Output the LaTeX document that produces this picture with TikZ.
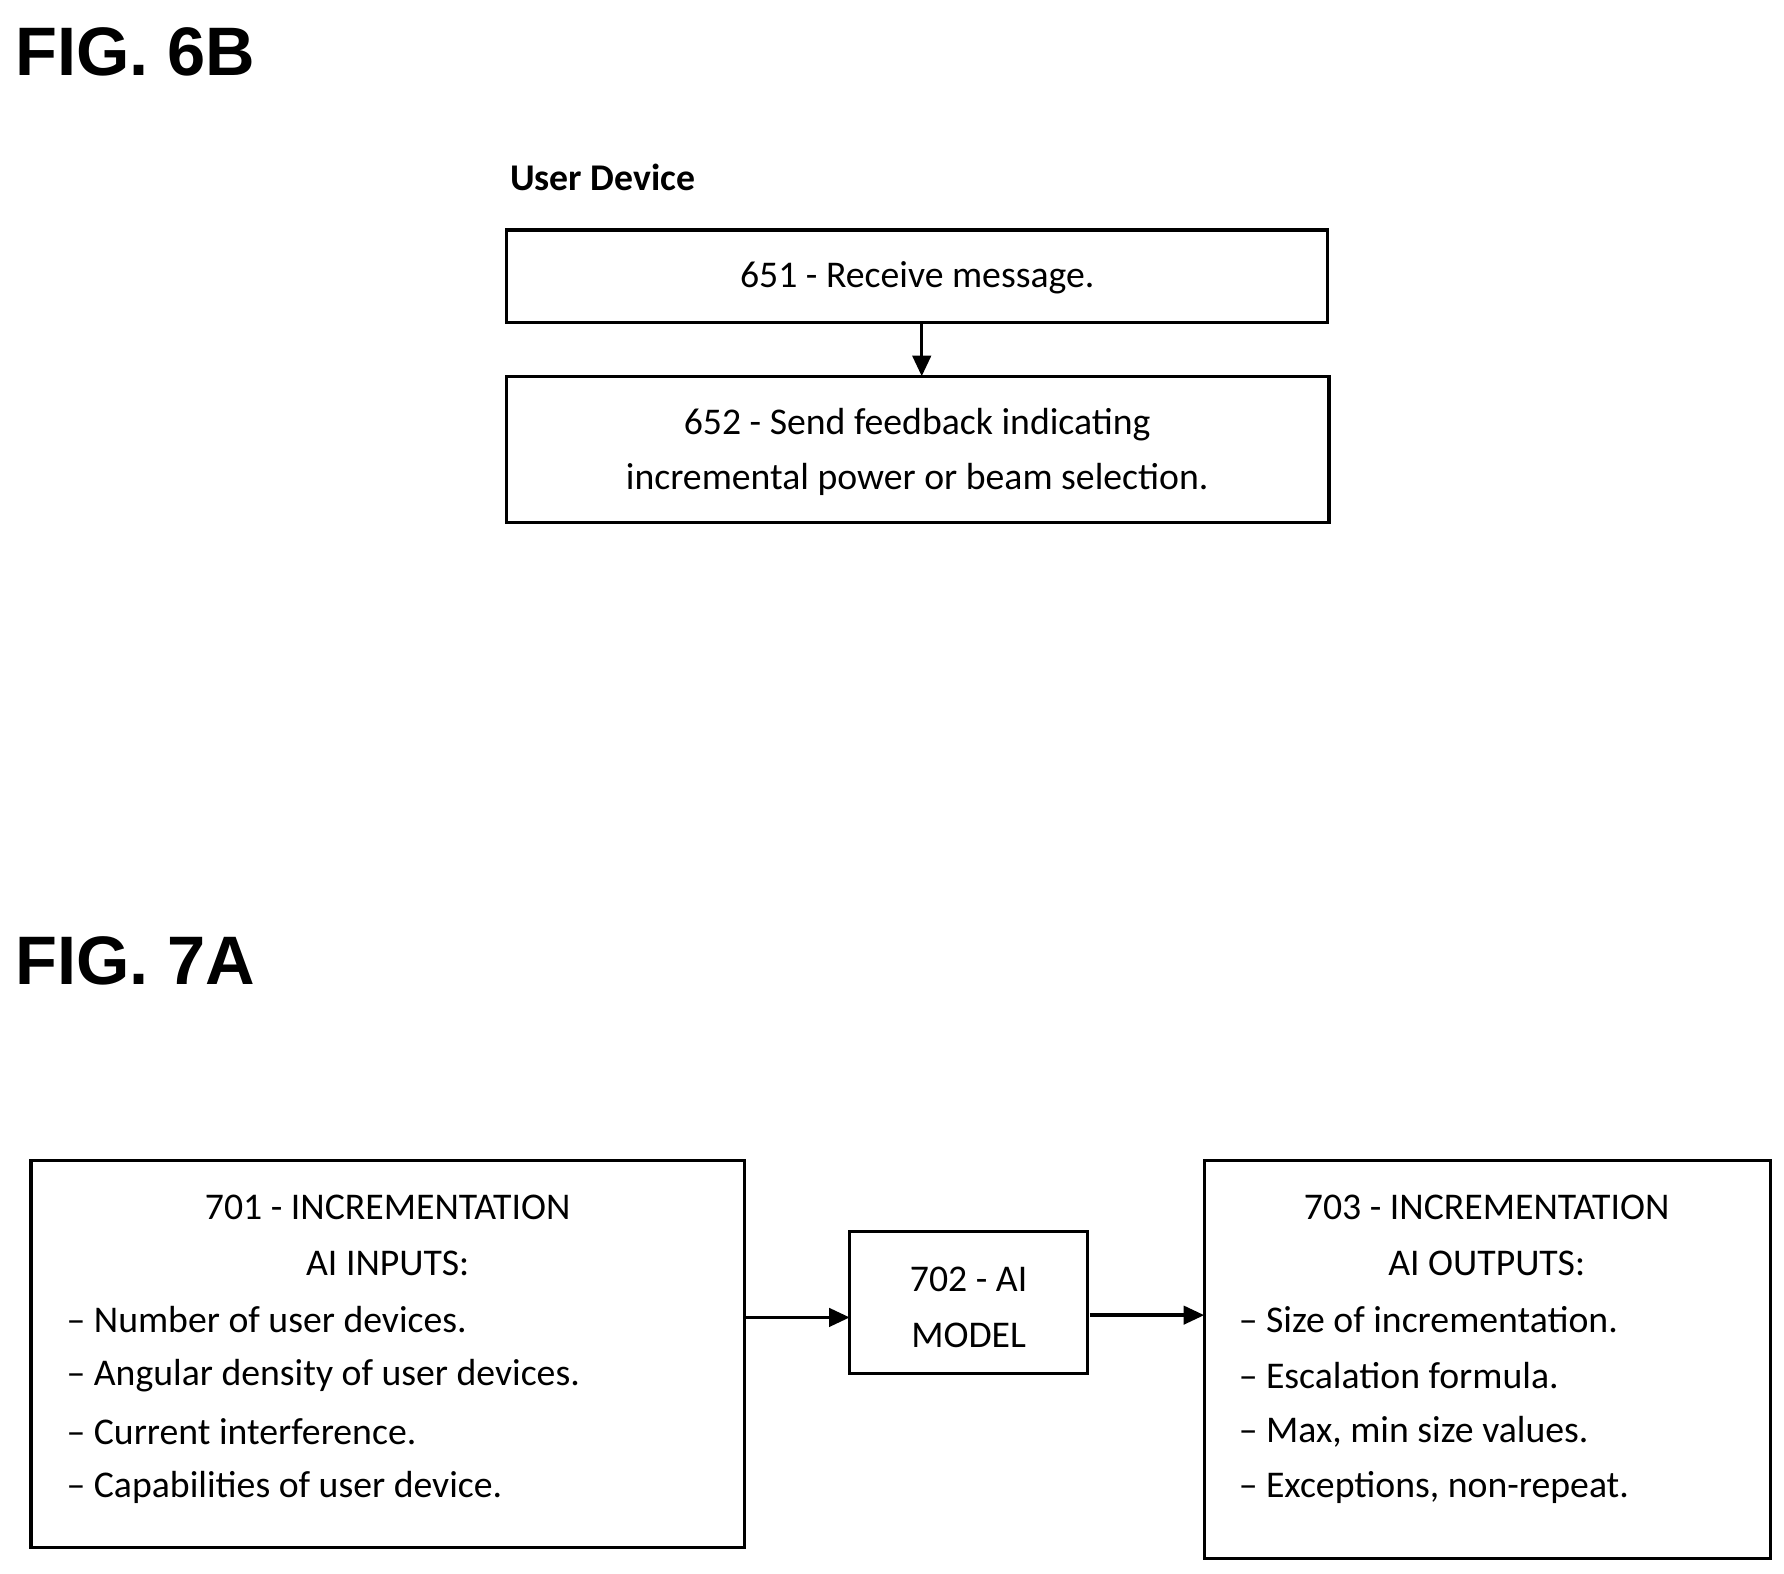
\documentclass[tikz,border=0pt]{standalone}
\usepackage{fontspec}
\setmainfont{Carlito}
\newfontfamily\arialb{Liberation Sans}[BoldFont={* Bold}]
\usetikzlibrary{arrows.meta}
\begin{document}
\begin{tikzpicture}[x=1pt,y=1pt,
  box/.style={draw,line width=3pt,inner sep=0pt},
  txt/.style={font=\fontsize{33}{40}\selectfont,inner sep=0pt},
  fig/.style={font=\fontsize{60}{70}\selectfont\arialb\bfseries,anchor=west,inner sep=0pt},
  arr/.style={line width=3pt,-{Triangle[length=18pt,width=16pt]}}]
\useasboundingbox (0,0) rectangle (1560,-1376);
\node[fig] (f6) at (13,-45) {FIG. 6B};
\node[txt,anchor=west,font=\fontsize{33}{40}\selectfont\bfseries] (ud) at (446,-155) {User Device};
\draw[box] (443,-201) rectangle (1161,-282);
\node[txt] (t651) at (802,-243) {651 - Receive message.};
\coordinate (b1) at (806,-282);
\draw[box] (443,-329) rectangle (1162,-457);
\node[txt,align=center] (t652) at (802,-395) {652 - Send feedback indicating\\[8pt]incremental power or beam selection.};
\coordinate (b2) at (806,-329);
\draw[arr] (b1) -- (b2);
\node[fig] (f7) at (13,-840) {FIG. 7A};
\draw[box] (27,-1015) rectangle (651,-1353);
\node[txt] (a1) at (339,-1056) {701 - INCREMENTATION};
\node[txt] (a2) at (339,-1105) {AI INPUTS:};
\foreach \t [count=\i] in {-- Number of user devices.,-- Angular density of user devices.,-- Current interference.,-- Capabilities of user device.}
  \node[txt,anchor=west] (al\i) at (58,-1105-49*\i) {\t};
\draw[box] (743,-1077) rectangle (951,-1201);
\node[txt] (m1) at (847,-1119) {702 - AI};
\node[txt] (m2) at (847,-1168) {MODEL};
\draw[box] (1053,-1015) rectangle (1548,-1363);
\node[txt] (c1) at (1300,-1056) {703 - INCREMENTATION};
\node[txt] (c2) at (1300,-1105) {AI OUTPUTS:};
\foreach \t [count=\i] in {-- Size of incrementation.,-- Escalation formula.,{-- Max, min size values.},{-- Exceptions, non-repeat.}}
  \node[txt,anchor=west] (cl\i) at (1083,-1105-49*\i) {\t};
\coordinate (p1) at (651,-1152); \coordinate (p2) at (743,-1152);
\coordinate (q1) at (953,-1150); \coordinate (q2) at (1053,-1150);
\draw[arr] (p1) -- (p2);
\draw[arr] (q1) -- (q2);
\end{tikzpicture}
\end{document}
